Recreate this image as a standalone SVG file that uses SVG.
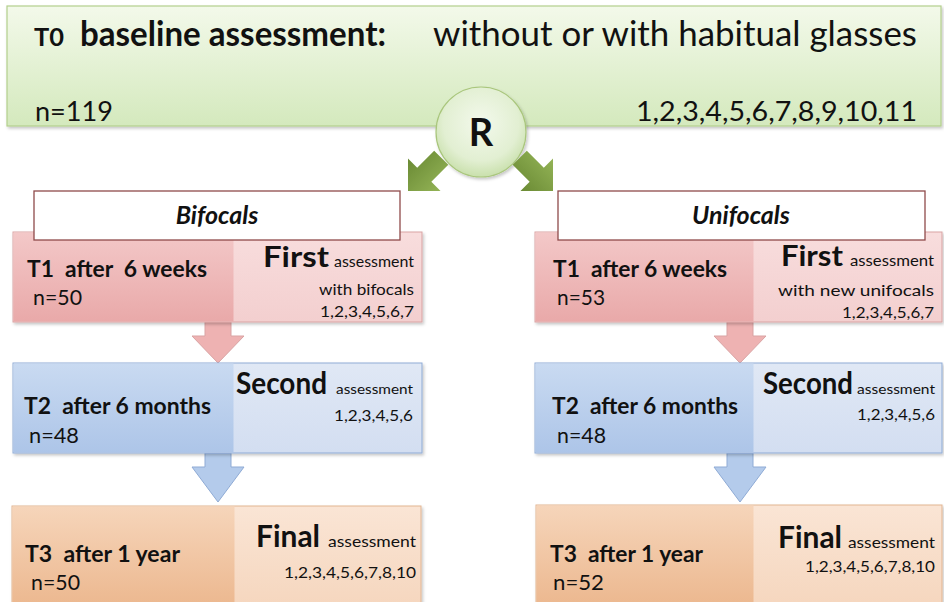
<svg xmlns="http://www.w3.org/2000/svg" width="944" height="602" viewBox="0 0 944 602">
<defs>
<linearGradient id="gTop" x1="0" y1="0" x2="0" y2="1"><stop offset="0" stop-color="#f3f9ea"/><stop offset="1" stop-color="#d4e9bd"/></linearGradient>
<radialGradient id="gR" cx="0.5" cy="0.4" r="0.6"><stop offset="0" stop-color="#f3f9ec"/><stop offset="0.7" stop-color="#e2efd2"/><stop offset="1" stop-color="#c9e0ac"/></radialGradient>
<linearGradient id="gArrow" x1="0" y1="0" x2="0" y2="1"><stop offset="0" stop-color="#93b356"/><stop offset="1" stop-color="#6a8a34"/></linearGradient>
<linearGradient id="pinkD" x1="0" y1="0" x2="0" y2="1"><stop offset="0" stop-color="#f3c8c8"/><stop offset="1" stop-color="#e9a9a9"/></linearGradient>
<linearGradient id="pinkL" x1="0" y1="0" x2="0" y2="1"><stop offset="0" stop-color="#f8dddd"/><stop offset="1" stop-color="#f3cfcf"/></linearGradient>
<linearGradient id="blueD" x1="0" y1="0" x2="0" y2="1"><stop offset="0" stop-color="#c9daf1"/><stop offset="1" stop-color="#adc5e8"/></linearGradient>
<linearGradient id="blueL" x1="0" y1="0" x2="0" y2="1"><stop offset="0" stop-color="#e0e8f5"/><stop offset="1" stop-color="#d3def1"/></linearGradient>
<linearGradient id="orD" x1="0" y1="0" x2="0" y2="1"><stop offset="0" stop-color="#f6d5ba"/><stop offset="1" stop-color="#ebb58b"/></linearGradient>
<linearGradient id="orL" x1="0" y1="0" x2="0" y2="1"><stop offset="0" stop-color="#fae5d5"/><stop offset="1" stop-color="#f5d5bc"/></linearGradient>
<filter id="sh" x="-5%" y="-5%" width="110%" height="115%"><feDropShadow dx="1.5" dy="2" stdDeviation="1.5" flood-color="#000" flood-opacity="0.22"/></filter>
</defs>
<style>
text{font-family:Lato,"Open Sans","Liberation Sans",sans-serif;fill:#111;white-space:pre}
.b{font-weight:bold}
.bi{font-weight:bold;font-style:italic}
.pink{stroke:#d9a3a3;stroke-width:1}
.blue{stroke:#8fabd5;stroke-width:1}
.or{stroke:#e2b592;stroke-width:1}
.end{text-anchor:end}
.mid{text-anchor:middle}
</style>

<g id="baseline">
<rect x="7" y="6" width="934" height="120" fill="url(#gTop)" stroke="#b3cf8c" stroke-width="1.2" filter="url(#sh)"/>
<text x="34" y="46" class="b" font-size="25" textLength="30" lengthAdjust="spacingAndGlyphs">T0</text>
<text x="80" y="46" class="b" font-size="34" textLength="306" lengthAdjust="spacingAndGlyphs">baseline assessment:</text>
<text x="433" y="46" font-size="34" textLength="484" lengthAdjust="spacingAndGlyphs">without or with habitual glasses</text>
<text x="35" y="121" font-size="27" textLength="78" lengthAdjust="spacingAndGlyphs">n=119</text>
<text x="636" y="121" font-size="27" textLength="281" lengthAdjust="spacingAndGlyphs">1,2,3,4,5,6,7,8,9,10,11</text>
</g>

<g id="randomisation">
<circle cx="481" cy="132" r="45" fill="url(#gR)" stroke="#a9c67c" stroke-width="1.2" filter="url(#sh)"/>
<text x="481" y="146" class="b mid" font-size="38">R</text>
</g>

<g id="connectors">
<path transform="translate(408,191) rotate(135)" d="M0,0 L-23,-23 L-23,-10 L-47,-10 L-47,10 L-23,10 L-23,23 Z" fill="url(#gArrow)"/>
<path transform="translate(553,191) rotate(45)" d="M0,0 L-23,-23 L-23,-10 L-47,-10 L-47,10 L-23,10 L-23,23 Z" fill="url(#gArrow)"/>
<path d="M205,322 L231,322 L231,336 L244,336 L218,363 L192,336 L205,336 Z" fill="#eeb2b2" stroke="#d9a3a3"/>
<path d="M727,322 L753,322 L753,336 L766,336 L740,363 L714,336 L727,336 Z" fill="#eeb2b2" stroke="#d9a3a3"/>
<path d="M205,453 L231,453 L231,467 L244,467 L218,502 L192,467 L205,467 Z" fill="#b4cbeb" stroke="#8fabd5"/>
<path d="M727,453 L753,453 L753,467 L766,467 L740,502 L714,467 L727,467 Z" fill="#b4cbeb" stroke="#8fabd5"/>
</g>

<g id="bif-t1">
<rect x="13" y="232" width="409" height="90" fill="url(#pinkL)" class="pink" filter="url(#sh)"/>
<rect x="13.5" y="232.5" width="220" height="89" fill="url(#pinkD)"/>
<text x="27" y="277" class="b" font-size="22" textLength="180" lengthAdjust="spacingAndGlyphs">T1  after  6 weeks</text>
<text x="33" y="305" font-size="21" textLength="49" lengthAdjust="spacingAndGlyphs">n=50</text>
<text x="263" y="267" class="b" font-size="29" textLength="66" lengthAdjust="spacingAndGlyphs">First</text>
<text x="414" y="267" class="end" font-size="15" textLength="80" lengthAdjust="spacingAndGlyphs">assessment</text>
<text x="414" y="295" class="end" font-size="16" textLength="95" lengthAdjust="spacingAndGlyphs">with bifocals</text>
<text x="414" y="317" class="end" font-size="15" textLength="94" lengthAdjust="spacingAndGlyphs">1,2,3,4,5,6,7</text>
</g>
<g id="bifocals">
<rect x="34" y="191" width="366" height="49" fill="#fff" stroke="#8f4b4b" stroke-width="1.3"/>
<text x="217" y="224" class="bi mid" font-size="25">Bifocals</text>
</g>

<g id="uni-t1">
<rect x="535" y="232" width="407" height="90" fill="url(#pinkL)" class="pink" filter="url(#sh)"/>
<rect x="535.5" y="232.5" width="218" height="89" fill="url(#pinkD)"/>
<text x="553" y="277" class="b" font-size="22" textLength="174" lengthAdjust="spacingAndGlyphs">T1  after 6 weeks</text>
<text x="557" y="305" font-size="21" textLength="48" lengthAdjust="spacingAndGlyphs">n=53</text>
<text x="781" y="266" class="b" font-size="29" textLength="62" lengthAdjust="spacingAndGlyphs">First</text>
<text x="934" y="266" class="end" font-size="15" textLength="84" lengthAdjust="spacingAndGlyphs">assessment</text>
<text x="934" y="296" class="end" font-size="16" textLength="156" lengthAdjust="spacingAndGlyphs">with new unifocals</text>
<text x="934" y="318" class="end" font-size="15" textLength="92" lengthAdjust="spacingAndGlyphs">1,2,3,4,5,6,7</text>
</g>
<g id="unifocals">
<rect x="558" y="191" width="367" height="49" fill="#fff" stroke="#8f4b4b" stroke-width="1.3"/>
<text x="741" y="224" class="bi mid" font-size="25">Unifocals</text>
</g>

<g id="bif-t2">
<rect x="13" y="363" width="409" height="90" fill="url(#blueL)" class="blue" filter="url(#sh)"/>
<rect x="13.5" y="363.5" width="220" height="89" fill="url(#blueD)"/>
<text x="24" y="414" class="b" font-size="22" textLength="187" lengthAdjust="spacingAndGlyphs">T2  after 6 months</text>
<text x="29" y="443" font-size="21" textLength="50" lengthAdjust="spacingAndGlyphs">n=48</text>
<text x="236" y="394" class="b" font-size="30" textLength="91" lengthAdjust="spacingAndGlyphs">Second</text>
<text x="413" y="394" class="end" font-size="14" textLength="77" lengthAdjust="spacingAndGlyphs">assessment</text>
<text x="413" y="421" class="end" font-size="15" textLength="79" lengthAdjust="spacingAndGlyphs">1,2,3,4,5,6</text>
</g>

<g id="uni-t2">
<rect x="535" y="363" width="407" height="90" fill="url(#blueL)" class="blue" filter="url(#sh)"/>
<rect x="535.5" y="363.5" width="218" height="89" fill="url(#blueD)"/>
<text x="552" y="414" class="b" font-size="22" textLength="186" lengthAdjust="spacingAndGlyphs">T2  after 6 months</text>
<text x="557" y="443" font-size="21" textLength="49" lengthAdjust="spacingAndGlyphs">n=48</text>
<text x="763" y="394" class="b" font-size="30" textLength="90" lengthAdjust="spacingAndGlyphs">Second</text>
<text x="935" y="394" class="end" font-size="14" textLength="78" lengthAdjust="spacingAndGlyphs">assessment</text>
<text x="935" y="420" class="end" font-size="15" textLength="78" lengthAdjust="spacingAndGlyphs">1,2,3,4,5,6</text>
</g>

<g id="bif-t3">
<rect x="12" y="506" width="409" height="110" fill="url(#orL)" class="or" filter="url(#sh)"/>
<rect x="12.5" y="506.5" width="222" height="109" fill="url(#orD)"/>
<text x="25" y="562" class="b" font-size="22" textLength="155" lengthAdjust="spacingAndGlyphs">T3  after 1 year</text>
<text x="31" y="590" font-size="21" textLength="49" lengthAdjust="spacingAndGlyphs">n=50</text>
<text x="256" y="547" class="b" font-size="31" textLength="64" lengthAdjust="spacingAndGlyphs">Final</text>
<text x="416" y="547" class="end" font-size="15" textLength="88" lengthAdjust="spacingAndGlyphs">assessment</text>
<text x="416" y="578" class="end" font-size="15" textLength="132" lengthAdjust="spacingAndGlyphs">1,2,3,4,5,6,7,8,10</text>
</g>

<g id="uni-t3">
<rect x="536" y="505" width="406" height="110" fill="url(#orL)" class="or" filter="url(#sh)"/>
<rect x="536.5" y="505.5" width="217" height="109" fill="url(#orD)"/>
<text x="550" y="562" class="b" font-size="22" textLength="153" lengthAdjust="spacingAndGlyphs">T3  after 1 year</text>
<text x="553" y="590" font-size="21" textLength="51" lengthAdjust="spacingAndGlyphs">n=52</text>
<text x="778" y="548" class="b" font-size="31" textLength="64" lengthAdjust="spacingAndGlyphs">Final</text>
<text x="935" y="548" class="end" font-size="15" textLength="87" lengthAdjust="spacingAndGlyphs">assessment</text>
<text x="935" y="572" class="end" font-size="15" textLength="130" lengthAdjust="spacingAndGlyphs">1,2,3,4,5,6,7,8,10</text>
</g>
</svg>
